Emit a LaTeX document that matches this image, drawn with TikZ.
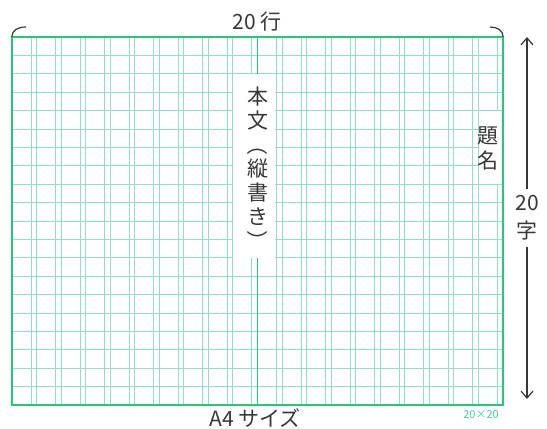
\documentclass[tikz,border=0pt]{standalone}
\usepackage{fontspec}
\setmainfont{Noto Sans CJK JP}
\usepackage{graphicx}
\usetikzlibrary{arrows.meta, positioning}
\definecolor{frameGreen}{RGB}{35,200,125}
\definecolor{cellGreen}{RGB}{150,222,195}
\definecolor{inkGray}{RGB}{55,55,55}

\begin{document}
\begin{tikzpicture}[
    x=1pt, y=-1pt,
    txt/.style={text=inkGray, font=\fontsize{21}{24}\selectfont, inner sep=0pt},
    cell/.style={draw=cellGreen, line width=1pt},
    frame/.style={draw=frameGreen, line width=2pt},
    arrow/.style={draw=inkGray, line width=1.2pt, -{Straight Barb[length=7pt,width=12pt]}}
]
\useasboundingbox (0,0) rectangle (547,429);

% Grid
\foreach \j in {1,...,19}
  \draw[cell] (12,37+18.4*\j) -- (503,37+18.4*\j);
\foreach \i in {0,...,19}
  \draw[cell] (12+24.55*\i,37) -- (12+24.55*\i,405)
              (31+24.55*\i,37) -- (31+24.55*\i,405);
\draw[frameGreen, line width=1.2pt] (257.5,37) -- (257.5,405);
\draw[frame] (12,37) rectangle (503,405);

% Blank cells under the texts
\fill[white] (232.5,74) rectangle (275,258);
\fill[white] (478.5,110.6) rectangle (502,184.2);

% Nodes
\node[txt, align=center] (body) at (257.5,169)
  {本\\文\\\rotatebox[origin=c]{-90}{（}\\縦\\書\\き\\\rotatebox[origin=c]{-90}{）}};
\node[txt, align=center, font=\fontsize{21}{25}\selectfont] (title) at (488,148) {題\\名};
\node[txt] (rows) at (257.5,22) {20 行};
\node[txt] (size) at (255,418) {A4 サイズ};
\node[txt, align=center, font=\fontsize{21}{28}\selectfont, fill=white, inner sep=6pt] (chars) at (527,218) {20\\字};
\node[text=frameGreen!85, font=\fontsize{11}{12}\selectfont, inner sep=0pt] (grid) at (481,415) {20×20};

% Arrows
\coordinate (top) at (527,37);
\coordinate (bottom) at (527,399);
\draw[arrow] (chars) -- (top);
\draw[arrow] (chars) -- (bottom);

% Brackets
\draw[inkGray, line width=1.2pt] (12,37) .. controls (12,30) and (18,27) .. (26,27);
\draw[inkGray, line width=1.2pt] (490,27) .. controls (497,27) and (503,30) .. (503,37);

\end{tikzpicture}
\end{document}
